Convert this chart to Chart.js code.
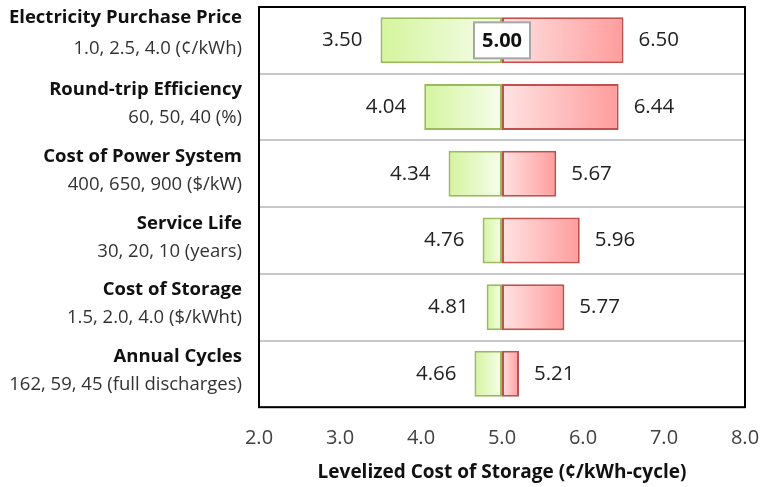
<!DOCTYPE html>
<html>
<head>
<meta charset="utf-8">
<script src="https://cdn.jsdelivr.net/npm/chart.js@4"></script>
<style>
  html, body { margin: 0; padding: 0; background: #ffffff; }
  #wrap { width: 760px; height: 487px; }
</style>
</head>
<body>
<div id="wrap"><canvas id="tornado" width="760" height="487"></canvas></div>
<script>
const FONT = "'Open Sans', Lato, sans-serif";

const factors = [
  "Electricity Purchase Price",
  "Round-trip Efficiency",
  "Cost of Power System",
  "Service Life",
  "Cost of Storage",
  "Annual Cycles",
];
const ranges = [
  "1.0, 2.5, 4.0 (¢/kWh)",
  "60, 50, 40 (%)",
  "400, 650, 900 ($/kW)",
  "30, 20, 10 (years)",
  "1.5, 2.0, 4.0 ($/kWht)",
  "162, 59, 45 (full discharges)",
];
const baseValue = 5.0;
const lowValues = [3.50, 4.04, 4.34, 4.76, 4.81, 4.66];
const highValues = [6.50, 6.44, 5.67, 5.96, 5.77, 5.21];

function barGradient(ctx, from, to, c0, c1) {
  const chart = ctx.chart;
  const xs = chart.scales.x;
  if (!chart.chartArea || !xs) return c1;
  const x0 = xs.getPixelForValue(from);
  const x1 = xs.getPixelForValue(to);
  const g = chart.ctx.createLinearGradient(x0, 0, x1, 0);
  g.addColorStop(0, c0);
  g.addColorStop(1, c1);
  return g;
}

const labelsPlugin = {
  id: "tornadoLabels",
  afterDatasetsDraw(chart) {
    const { ctx, chartArea, scales } = chart;
    const xs = scales.x, ys = scales.y;
    ctx.save();

    // category labels on the left
    ctx.textAlign = "right";
    ctx.textBaseline = "middle";
    factors.forEach((name, i) => {
      const cy = ys.getPixelForValue(i);
      const dyTop = i === 0 ? -23 : -17;
      const dySub = i === 0 ? 8 : 11;
      ctx.fillStyle = "#111111";
      ctx.font = "bold 18.5px " + FONT;
      ctx.fillText(name, 242, cy + dyTop);
      ctx.fillStyle = "#333333";
      ctx.font = "18.5px " + FONT;
      ctx.fillText(ranges[i], 242, cy + dySub);
    });

    // value labels
    ctx.font = "20.5px " + FONT;
    ctx.fillStyle = "#222222";
    lowValues.forEach((v, i) => {
      const cy = ys.getPixelForValue(i);
      ctx.textAlign = "right";
      ctx.fillText(v.toFixed(2), xs.getPixelForValue(v) - 18, cy);
      ctx.textAlign = "left";
      ctx.fillText(highValues[i].toFixed(2), xs.getPixelForValue(highValues[i]) + 15, cy);
    });

    // base value box
    const bx = xs.getPixelForValue(baseValue);
    const by = ys.getPixelForValue(0);
    ctx.fillStyle = "#ffffff";
    ctx.fillRect(bx - 28, by - 18, 56, 36);
    ctx.strokeStyle = "#a6a6a6";
    ctx.lineWidth = 2;
    ctx.strokeRect(bx - 28, by - 18, 56, 36);
    ctx.fillStyle = "#111111";
    ctx.font = "bold 20px " + FONT;
    ctx.textAlign = "center";
    ctx.fillText(baseValue.toFixed(2), bx, by + 1);

    // plot frame
    ctx.strokeStyle = "#000000";
    ctx.lineWidth = 2;
    ctx.strokeRect(chartArea.left, chartArea.top, chartArea.right - chartArea.left, chartArea.bottom - chartArea.top);
    ctx.restore();
  },
};

new Chart(document.getElementById("tornado"), {
  type: "bar",
  data: {
    labels: factors,
    datasets: [
      {
        label: "Low",
        data: lowValues.map(v => [v, baseValue]),
        backgroundColor: ctx => barGradient(ctx, lowValues[ctx.dataIndex], baseValue, "#d4f59c", "#f6fdee"),
        borderColor: "#9bbb59",
        borderWidth: 2,
        borderSkipped: false,
        grouped: false,
        barPercentage: 0.69,
        categoryPercentage: 1,
      },
      {
        label: "High",
        data: highValues.map(v => [baseValue, v]),
        backgroundColor: ctx => barGradient(ctx, baseValue, highValues[ctx.dataIndex], "#ffe3e3", "#ff9c9c"),
        borderColor: "#c0504d",
        borderWidth: 2,
        borderSkipped: false,
        grouped: false,
        barPercentage: 0.69,
        categoryPercentage: 1,
      },
    ],
  },
  options: {
    indexAxis: "y",
    responsive: false,
    animation: false,
    layout: { padding: { top: 7, right: 0, bottom: 0, left: 0 } },
    plugins: {
      legend: { display: false },
      tooltip: { enabled: false },
    },
    scales: {
      x: {
        min: 2,
        max: 8,
        ticks: {
          stepSize: 1,
          color: "#404040",
          font: { family: FONT, size: 20 },
          padding: 11,
          callback: v => Number(v).toFixed(1),
        },
        grid: { display: false },
        border: { display: false },
        title: {
          display: true,
          text: "Levelized Cost of Storage (¢/kWh-cycle)",
          color: "#111111",
          font: { family: FONT, size: 19, weight: "bold" },
          padding: { top: 0, bottom: 3 },
        },
        afterFit(scale) {
          scale.paddingRight = 15;
        },
      },
      y: {
        ticks: { display: false },
        grid: { color: "#c8c8c8", lineWidth: 2, drawTicks: false, offset: true },
        border: { display: false },
        afterFit(scale) { scale.width = 259; },
      },
    },
  },
  plugins: [labelsPlugin],
});
</script>
</body>
</html>
